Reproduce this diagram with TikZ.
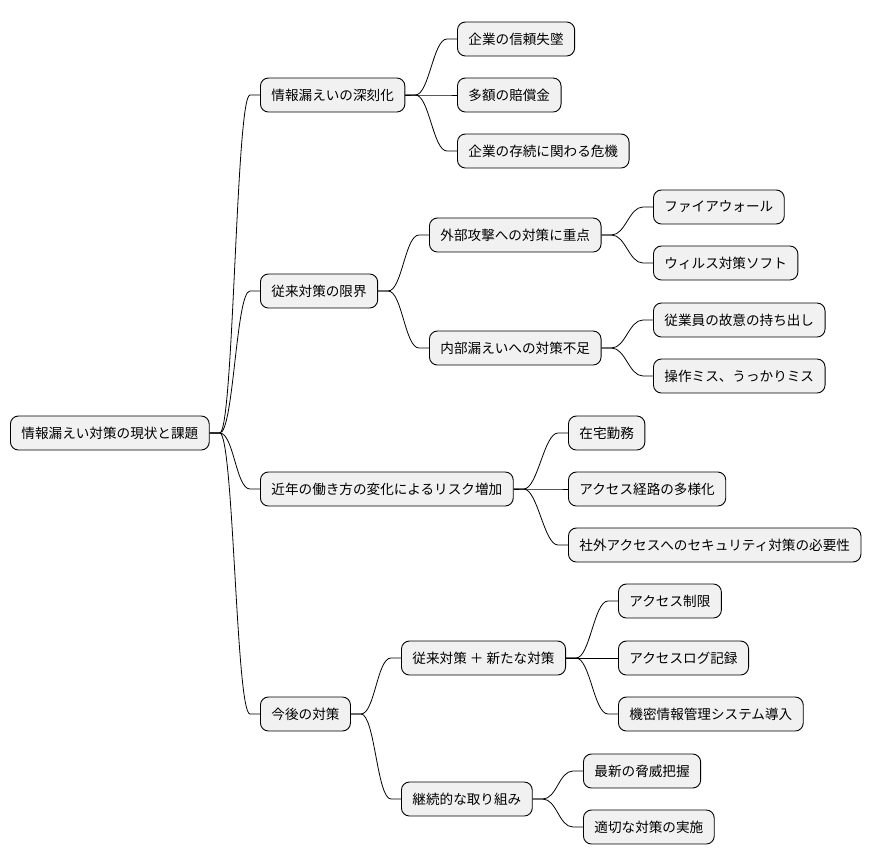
\documentclass[tikz,border=0pt]{standalone}
\usepackage{fontspec}
\setmainfont{Noto Sans CJK JP}
\usetikzlibrary{positioning}
\definecolor{boxfill}{HTML}{F1F1F1}
\tikzset{font=\fontsize{13.6}{16}\selectfont}
\tikzset{
  topic/.style={draw,fill=boxfill,rounded corners=8pt,line width=0.9pt,minimum height=34pt,inner xsep=11pt,anchor=west},
  branch/.style={to path={-- ++(10pt,0) .. controls +(14pt,0) and +(-14pt,0) .. ([xshift=-10pt]\tikztotarget) -- (\tikztotarget)}}
}

\begin{document}
\begin{tikzpicture}[x=1pt,y=-1pt,line width=0.8pt]
    \useasboundingbox (0,0) rectangle (880,865);

    \node[topic] (root) at (10,433) {情報漏えい対策の現状と課題};

    \node[topic] (sev) at (260,95) {情報漏えいの深刻化};
    \node[topic] (sev1) at (457,39) {企業の信頼失墜};
    \node[topic] (sev2) at (457,95) {多額の賠償金};
    \node[topic] (sev3) at (457,151) {企業の存続に関わる危機};

    \node[topic] (lim) at (260,291) {従来対策の限界};
    \node[topic] (ext) at (429,235) {外部攻撃への対策に重点};
    \node[topic] (ext1) at (653,207) {ファイアウォール};
    \node[topic] (ext2) at (653,263) {ウィルス対策ソフト};
    \node[topic] (int) at (429,348) {内部漏えいへの対策不足};
    \node[topic] (int1) at (653,320) {従業員の故意の持ち出し};
    \node[topic] (int2) at (653,376) {操作ミス、うっかりミス};

    \node[topic] (work) at (260,489) {近年の働き方の変化によるリスク増加};
    \node[topic] (work1) at (568,433) {在宅勤務};
    \node[topic] (work2) at (568,489) {アクセス経路の多様化};
    \node[topic] (work3) at (568,545) {社外アクセスへのセキュリティ対策の必要性};

    \node[topic] (fut) at (260,714) {今後の対策};
    \node[topic] (new) at (401,658) {従来対策 ＋ 新たな対策};
    \node[topic] (new1) at (618,601) {アクセス制限};
    \node[topic] (new2) at (618,658) {アクセスログ記録};
    \node[topic] (new3) at (618,714) {機密情報管理システム導入};
    \node[topic] (cont) at (401,799) {継続的な取り組み};
    \node[topic] (cont1) at (583,771) {最新の脅威把握};
    \node[topic] (cont2) at (583,827) {適切な対策の実施};

    % connectors
    \foreach \p/\c in {root/sev,root/lim,root/work,root/fut,
                       sev/sev1,sev/sev2,sev/sev3,
                       lim/ext,lim/int,ext/ext1,ext/ext2,int/int1,int/int2,
                       work/work1,work/work2,work/work3,
                       fut/new,fut/cont,new/new1,new/new2,new/new3,
                       cont/cont1,cont/cont2}
      \draw (\p.east) to[branch] (\c.west);
\end{tikzpicture}
\end{document}
